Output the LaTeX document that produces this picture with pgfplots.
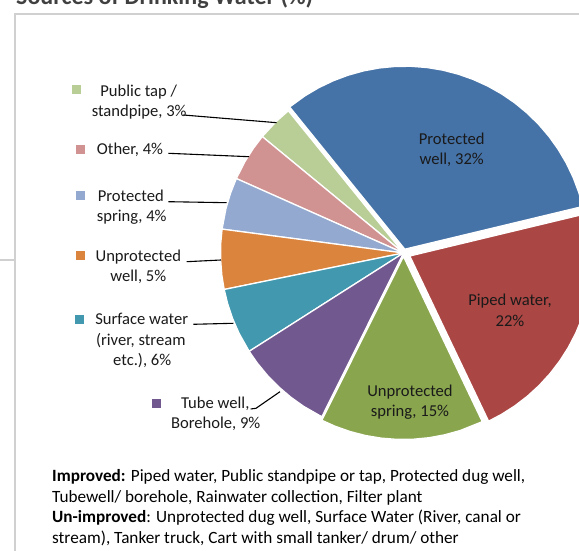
\documentclass[border=0pt]{standalone}
\usepackage{pgfplots}
\pgfplotsset{compat=1.18}
\usepackage{fontspec}
\setmainfont{Carlito}
\definecolor{cblue}{HTML}{4572A7}
\definecolor{cred}{HTML}{AA4643}
\definecolor{cgreen}{HTML}{89A54E}
\definecolor{cpurple}{HTML}{71588F}
\definecolor{cteal}{HTML}{4198AF}
\definecolor{corange}{HTML}{DB843D}
\definecolor{clblue}{HTML}{93A9CF}
\definecolor{cpink}{HTML}{D19392}
\definecolor{clgreen}{HTML}{B9CD96}
\definecolor{frame}{HTML}{D0D0D0}
\definecolor{txt}{HTML}{1A1A1A}
\newcommand{\lf}{\fontsize{16.6}{20}\selectfont}
\newcommand{\botf}{\fontsize{17.2}{20}\selectfont}
\begin{document}
\begin{tikzpicture}[x=1pt,y=1pt]
\useasboundingbox (0,0) rectangle (579,551);
\clip (0,0) rectangle (579,551);
% frame
\draw[frame, line width=1.3pt] (15,-5) -- (15,537) -- (590,537);
\draw[frame, line width=1.3pt] (-5,291) -- (15,291);
% title
\node[anchor=base west, inner sep=0, text=black!75, font=\fontsize{24}{28}\selectfont\bfseries] at (16,546.5) {Sources of Drinking Water (\%)};
\begin{axis}[at={(403.5pt,298pt)}, anchor=center, scale only axis,
  width=400pt, height=400pt, xmin=-200, xmax=200, ymin=-200, ymax=200,
  hide axis, clip=false]
% Protected well 32%
\addplot[data cs=polar, fill=cblue, draw=white, line width=1.3pt, xshift=1.3pt, yshift=3.8pt] coordinates {
 (13.5,0) (13.5,183) (18,183) (23,183) (28,183) (33,183) (38,183) (43,183) (48,183) (53,183) (58,183)
 (63,183) (68,183) (73,183) (78,183) (83,183) (88,183) (93,183) (98,183) (103,183) (108,183)
 (113,183) (118,183) (123,183) (129,183) (129,0)} -- cycle;
% Public tap 3%
\addplot[data cs=polar, fill=clgreen, draw=white, line width=1.3pt] coordinates {
 (129,0) (129,183) (134,183) (140.5,183) (140.5,0)} -- cycle;
% Other 4%
\addplot[data cs=polar, fill=cpink, draw=white, line width=1.3pt] coordinates {
 (140.5,0) (140.5,183) (145,183) (150,183) (156,183) (156,0)} -- cycle;
% Protected spring 4%
\addplot[data cs=polar, fill=clblue, draw=white, line width=1.3pt] coordinates {
 (156,0) (156,183) (161,183) (166,183) (172.5,183) (172.5,0)} -- cycle;
% Unprotected well 5%
\addplot[data cs=polar, fill=corange, draw=white, line width=1.3pt] coordinates {
 (172.5,0) (172.5,183) (177,183) (182,183) (187,183) (191.5,183) (191.5,0)} -- cycle;
% Surface water 6%
\addplot[data cs=polar, fill=cteal, draw=white, line width=1.3pt] coordinates {
 (191.5,0) (191.5,183) (196,183) (201,183) (206,183) (212.5,183) (212.5,0)} -- cycle;
% Tube well 9%
\addplot[data cs=polar, fill=cpurple, draw=white, line width=1.3pt] coordinates {
 (212.5,0) (212.5,183) (217,183) (222,183) (227,183) (232,183) (237,183) (243.5,183) (243.5,0)} -- cycle;
% Unprotected spring 15%
\addplot[data cs=polar, fill=cgreen, draw=white, line width=1.3pt, yshift=-3.5pt] coordinates {
 (243.5,0) (243.5,183) (248,183) (253,183) (258,183) (263,183) (268,183) (273,183) (278,183)
 (283,183) (288,183) (295.5,183) (295.5,0)} -- cycle;
% Piped water 22%
\addplot[data cs=polar, fill=cred, draw=white, line width=1.3pt, xshift=6.3pt, yshift=-3pt] coordinates {
 (295.5,0) (295.5,183) (300,183) (305,183) (310,183) (315,183) (320,183) (325,183) (330,183)
 (335,183) (340,183) (345,183) (350,183) (355,183) (360,183) (365,183) (370,183) (373.5,183) (373.5,0)} -- cycle;
\end{axis}
% leader lines
\draw[black, line width=1.1pt] (183.3,436) -- (276.7,428.3);
\draw[black, line width=1.1pt] (168.3,397.7) -- (249,394.3);
\draw[black, line width=1.1pt] (168.3,349.3) -- (226.7,348.3);
\draw[black, line width=1.1pt] (186.7,289.3) -- (221,291);
\draw[black, line width=1.1pt] (193.3,226.7) -- (233.3,227.7);
\draw[black, line width=1.1pt] (250.7,142) -- (256,142.7) -- (280,159.3);
% inside labels
\begin{scope}[every node/.style={anchor=base, inner sep=0, text=txt, font=\lf}]
\node at (451.7,406.7) {Protected};
\node at (451.7,386.7) {well, 32\%};
\node at (510,245.3) {Piped water,};
\node at (510,224.3) {22\%};
\node at (410,154.3) {Unprotected};
\node at (410,134.3) {spring, 15\%};
% outside labels
\node at (138.7,454.3) {Public tap /};
\node at (139.2,434.3) {standpipe, 3\%};
\node at (130,396.7) {Other, 4\%};
\node at (130.8,349.3) {Protected};
\node at (131.7,329.3) {spring, 4\%};
\node at (138.3,289.3) {Unprotected};
\node at (138.3,269.3) {well, 5\%};
\node at (141.7,226) {Surface water};
\node at (140.8,205.3) {(river, stream};
\node at (142.2,185.3) {etc.), 6\%};
\node at (215.3,142.7) {Tube well,};
\node at (215.7,122.7) {Borehole, 9\%};
\end{scope}
% legend keys
\begin{scope}[every node/.style={inner sep=0, minimum size=9pt}]
\node[fill=clgreen] at (76.5,461) {};
\node[fill=cpink] at (80.7,401.7) {};
\node[fill=clblue] at (80.7,355) {};
\node[fill=corange] at (80,295) {};
\node[fill=cteal] at (79,231.7) {};
\node[fill=cpurple] at (156,147.7) {};
\end{scope}
% bottom text
\begin{scope}[every node/.style={anchor=base west, inner sep=0, text=black, font=\botf}]
\node at (52,69) {\textbf{Improved:} Piped water, Public standpipe or tap, Protected dug well,};
\node at (52,48.5) {Tubewell/ borehole, Rainwater collection, Filter plant};
\node at (52,28) {\textbf{Un-improved}: Unprotected dug well, Surface Water (River, canal or};
\node at (52,7.5) {stream), Tanker truck, Cart with small tanker/ drum/ other};
\end{scope}
\end{tikzpicture}
\end{document}
